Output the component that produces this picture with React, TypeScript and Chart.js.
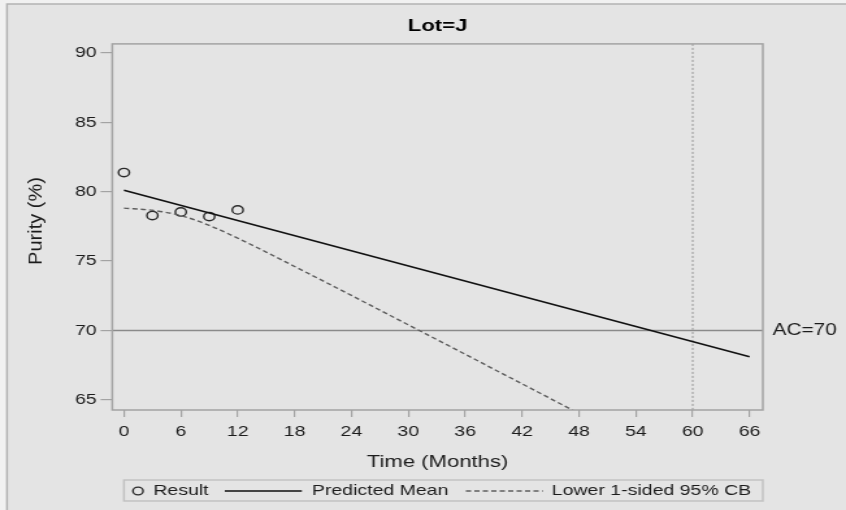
import { useEffect, useRef } from 'react';
import { Chart, registerables } from 'chart.js';

Chart.register(...registerables);

// ---- data ----
const resultMonths = [0, 3, 6, 9, 12];
const resultPurity = [81.38, 78.28, 78.54, 78.21, 78.69];

const meanMonths = [0, 66];
const meanPurity = [80.1, 68.1];

const cbMonths = [0, 3, 6, 9, 12, 15, 18, 21, 24, 27, 30, 33, 36, 39, 42, 45, 48];
const cbPurity = [78.82, 78.66, 78.28, 77.57, 76.65, 75.65, 74.61, 73.57, 72.52, 71.46, 70.4, 69.34, 68.28, 67.21, 66.15, 65.08, 64.01];

const xTickValues = [0, 6, 12, 18, 24, 30, 36, 42, 48, 54, 60, 66];
const yTickValues = [65, 70, 75, 80, 85, 90];

const AC_LIMIT = 70;
const SHELF_MONTH = 60;

const TITLE = 'Lot=J';
const X_TITLE = 'Time (Months)';
const Y_TITLE = 'Purity (%)';
const AC_LABEL = 'AC=70';
const LEGEND_RESULT = 'Result';
const LEGEND_MEAN = 'Predicted Mean';
const LEGEND_CB = 'Lower 1-sided 95% CB';

// ---- layout (canvas is drawn narrow and stretched horizontally by CSS) ----
const CANVAS_W = 651;
const CANVAS_H = 510;
const FONT = '"Liberation Sans", Arial, Helvetica, sans-serif';
const PANEL_X = 5.4;
const PANEL_Y = 4;
const FRAME_COLOR = '#a3a3a3';
const TEXT_COLOR = '#1c1c1c';
const MARKER_R = 4.2;

const toXY = (xs: number[], ys: number[]) => xs.map((x, i) => ({ x, y: ys[i] }));

const decorPlugin = {
  id: 'decor',
  beforeDraw(chart: any) {
    const { ctx, width, height } = chart;
    ctx.save();
    ctx.fillStyle = '#f1f1f1';
    ctx.fillRect(0, 0, width, height);
    ctx.fillStyle = '#e4e4e4';
    ctx.fillRect(PANEL_X, PANEL_Y, width, height);
    ctx.strokeStyle = '#b2b2b2';
    ctx.lineWidth = 1.5;
    ctx.beginPath();
    ctx.moveTo(PANEL_X, height);
    ctx.lineTo(PANEL_X, PANEL_Y);
    ctx.lineTo(width, PANEL_Y);
    ctx.stroke();
    ctx.restore();
  },
  beforeDatasetsDraw(chart: any) {
    const { ctx, chartArea: a, scales } = chart;
    const yAc = scales.y.getPixelForValue(AC_LIMIT);
    const xShelf = scales.x.getPixelForValue(SHELF_MONTH);
    ctx.save();
    // acceptance criterion
    ctx.strokeStyle = '#8a8a8a';
    ctx.lineWidth = 1.5;
    ctx.beginPath();
    ctx.moveTo(a.left, yAc);
    ctx.lineTo(a.right, yAc);
    ctx.stroke();
    // shelf-life month marker
    ctx.strokeStyle = '#a6a6a6';
    ctx.lineWidth = 1.3;
    ctx.setLineDash([2, 2]);
    ctx.beginPath();
    ctx.moveTo(xShelf, a.top);
    ctx.lineTo(xShelf, a.bottom);
    ctx.stroke();
    ctx.restore();
  },
  afterDatasetsDraw(chart: any) {
    const { ctx, chartArea: a } = chart;
    ctx.save();
    ctx.strokeStyle = FRAME_COLOR;
    ctx.lineWidth = 1.5;
    ctx.strokeRect(a.left, a.top, a.right - a.left, a.bottom - a.top);
    ctx.restore();
  },
  afterDraw(chart: any) {
    const { ctx, chartArea: a, scales } = chart;
    ctx.save();
    ctx.fillStyle = TEXT_COLOR;

    // AC label right of the plot
    ctx.font = `16px ${FONT}`;
    ctx.textAlign = 'left';
    ctx.textBaseline = 'middle';
    ctx.fillText(AC_LABEL, a.right + 7.5, scales.y.getPixelForValue(AC_LIMIT));

    // rotated y-axis title
    ctx.save();
    ctx.translate(27.7, 221);
    ctx.rotate(-Math.PI / 2);
    ctx.scale(1, 0.75);
    ctx.font = `20px ${FONT}`;
    ctx.textAlign = 'center';
    ctx.textBaseline = 'middle';
    ctx.fillText(Y_TITLE, 0, 0);
    ctx.restore();

    // legend
    const lx = 95.4;
    const ly = 480;
    const lw = a.right - lx;
    const lh = 21;
    const cy = ly + lh / 2 + 0.5;
    ctx.strokeStyle = '#c2c2c2';
    ctx.lineWidth = 1.5;
    ctx.strokeRect(lx, ly, lw, lh);

    ctx.strokeStyle = '#2a2a2a';
    ctx.lineWidth = 1.4;
    ctx.beginPath();
    ctx.arc(106.2, cy, 3.9, 0, Math.PI * 2);
    ctx.stroke();

    ctx.font = `15px ${FONT}`;
    ctx.textAlign = 'left';
    ctx.textBaseline = 'middle';
    ctx.fillText(LEGEND_RESULT, 118, cy);

    ctx.strokeStyle = '#111';
    ctx.lineWidth = 1.6;
    ctx.beginPath();
    ctx.moveTo(173, cy);
    ctx.lineTo(232.3, cy);
    ctx.stroke();
    ctx.fillText(LEGEND_MEAN, 240, cy);

    ctx.strokeStyle = '#5e5e5e';
    ctx.lineWidth = 1.4;
    ctx.setLineDash([4, 2.5]);
    ctx.beginPath();
    ctx.moveTo(358.5, cy);
    ctx.lineTo(417.7, cy);
    ctx.stroke();
    ctx.setLineDash([]);
    ctx.fillText(LEGEND_CB, 424.6, cy);

    ctx.restore();
  },
};

export default function App() {
  const canvasRef = useRef<HTMLCanvasElement>(null);

  useEffect(() => {
    const canvas = canvasRef.current;
    if (!canvas) return;
    const chart = new Chart(canvas, {
      type: 'scatter',
      data: {
        datasets: [
          {
            label: LEGEND_CB,
            type: 'line',
            data: toXY(cbMonths, cbPurity),
            borderColor: '#5e5e5e',
            borderWidth: 1.4,
            borderDash: [4, 2.5],
            pointRadius: 0,
            cubicInterpolationMode: 'monotone',
            fill: false,
          },
          {
            label: LEGEND_MEAN,
            type: 'line',
            data: toXY(meanMonths, meanPurity),
            borderColor: '#111',
            borderWidth: 1.6,
            pointRadius: 0,
            fill: false,
          },
          {
            label: LEGEND_RESULT,
            data: toXY(resultMonths, resultPurity),
            showLine: false,
            pointStyle: 'circle',
            pointRadius: MARKER_R,
            borderWidth: 1.4,
            borderColor: '#2a2a2a',
            backgroundColor: 'rgba(0,0,0,0)',
          },
        ],
      },
      options: {
        animation: false,
        responsive: false,
        devicePixelRatio: 1,
        events: [],
        layout: { padding: { left: 0, right: 64, top: 0, bottom: 0 } },
        plugins: {
          legend: { display: false },
          tooltip: { enabled: false },
          title: {
            display: true,
            text: TITLE,
            fullSize: false,
            color: '#000',
            font: { family: FONT, size: 17, weight: 'bold' },
            padding: { top: 16.5, bottom: 7 },
          },
        },
        scales: {
          x: {
            type: 'linear',
            min: -1.23,
            max: 67.4,
            afterBuildTicks: (s: any) => {
              s.ticks = xTickValues.map((v) => ({ value: v }));
            },
            afterFit: (s: any) => {
              s.height = 100;
            },
            grid: {
              drawOnChartArea: false,
              drawTicks: true,
              tickLength: 7,
              color: FRAME_COLOR,
              tickColor: FRAME_COLOR,
              lineWidth: 1.2,
            },
            border: { display: false },
            ticks: {
              autoSkip: false,
              maxRotation: 0,
              padding: 6,
              color: TEXT_COLOR,
              font: { family: FONT, size: 15 },
            },
            title: {
              display: true,
              text: X_TITLE,
              color: TEXT_COLOR,
              font: { family: FONT, size: 17 },
              padding: { top: 0, bottom: 37 },
            },
          },
          y: {
            type: 'linear',
            min: 64.26,
            max: 90.66,
            afterBuildTicks: (s: any) => {
              s.ticks = yTickValues.map((v) => ({ value: v }));
            },
            afterFit: (s: any) => {
              s.width = 86.4;
            },
            grid: {
              drawOnChartArea: false,
              drawTicks: true,
              tickLength: 9,
              color: FRAME_COLOR,
              tickColor: FRAME_COLOR,
              lineWidth: 1.2,
            },
            border: { display: false },
            ticks: {
              padding: 3,
              color: TEXT_COLOR,
              font: { family: FONT, size: 15 },
            },
            title: { display: false },
          },
        },
      },
      plugins: [decorPlugin],
    } as any);
    return () => chart.destroy();
  }, []);

  return (
    <div style={{ position: 'absolute', left: 0, top: 0, width: 846, height: 510, overflow: 'hidden' }}>
      <canvas
        ref={canvasRef}
        width={CANVAS_W}
        height={CANVAS_H}
        style={{ width: '846px', height: '510px', display: 'block' }}
      />
    </div>
  );
}
